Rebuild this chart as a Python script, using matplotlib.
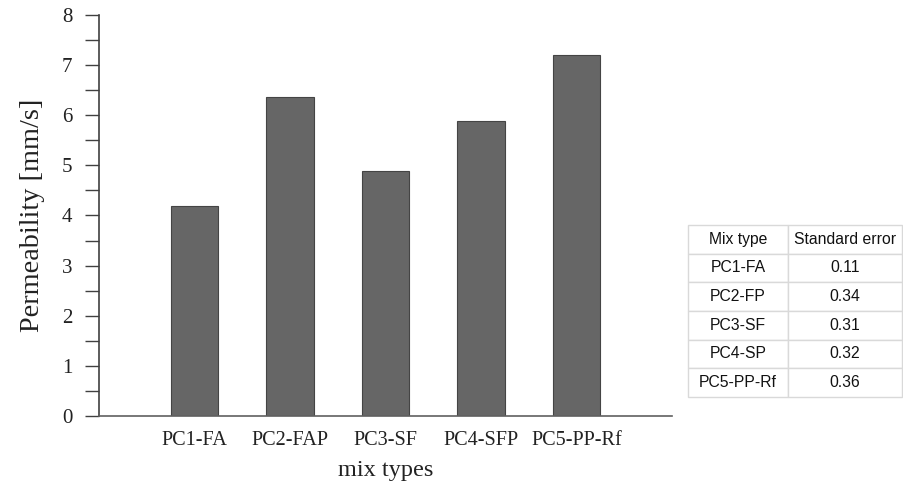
import matplotlib
matplotlib.use("Agg")
import matplotlib.pyplot as plt
from matplotlib.ticker import MultipleLocator

# Permeability of each mix
mix_types = ["PC1-FA", "PC2-FAP", "PC3-SF", "PC4-SFP", "PC5-PP-Rf"]
permeability = [4.18, 6.36, 4.89, 5.88, 7.21]

# Standard error table
table_mix = ["PC1-FA", "PC2-FP", "PC3-SF", "PC4-SP", "PC5-PP-Rf"]
std_error = ["0.11", "0.34", "0.31", "0.32", "0.36"]
table_header = ["Mix type", "Standard error"]

W, H = 904, 486
fig = plt.figure(figsize=(W / 100, H / 100), dpi=100)
ax = fig.add_axes([99 / W, 1 - 416 / H, (672 - 99) / W, (416 - 15) / H])

serif = "Liberation Serif"
x = list(range(len(mix_types)))
ax.bar(x, permeability, width=0.5, color="#666666", edgecolor="#444444",
       linewidth=0.8, zorder=2)

ax.set_xlim(-1, len(mix_types))
ax.set_ylim(0, 8)
ax.yaxis.set_major_locator(MultipleLocator(1))
ax.yaxis.set_minor_locator(MultipleLocator(0.5))
ax.set_xticks(x)
ax.set_xticklabels(mix_types, fontfamily=serif, fontsize=14.6)
for lbl in ax.get_yticklabels():
    lbl.set_fontfamily(serif)
    lbl.set_fontsize(15)

ax.tick_params(axis="y", which="both", direction="out", length=10,
               width=1.0, color="#404040", pad=9, labelcolor="#222222")
ax.tick_params(axis="x", length=0, pad=11, labelcolor="#222222")

for side in ("top", "right"):
    ax.spines[side].set_visible(False)
ax.spines["left"].set_color("#404040")
ax.spines["left"].set_linewidth(1.2)
ax.spines["bottom"].set_color("#606060")
ax.spines["bottom"].set_linewidth(1.2)

ax.set_ylabel("Permeability [mm/s]", fontfamily=serif, fontsize=20.3,
              color="#222222", labelpad=12)
ax.set_xlabel("mix types", fontfamily=serif, fontsize=17.5, color="#222222",
              labelpad=7)

# Standard error table to the right of the chart
tax = fig.add_axes([688 / W, 1 - 397 / H, (902 - 688) / W, (397 - 225) / H])
tax.axis("off")
cells = [[m, s] for m, s in zip(table_mix, std_error)]
tbl = tax.table(cellText=cells, colLabels=table_header, cellLoc="center",
                colWidths=[0.467, 0.533], bbox=[0, 0, 1, 1])
tbl.auto_set_font_size(False)
for (r, c), cell in tbl.get_celld().items():
    cell.set_edgecolor("#d9d9d9")
    cell.set_linewidth(1.0)
    cell.set_facecolor("white")
    cell.get_text().set_fontfamily("Liberation Sans")
    cell.get_text().set_fontsize(11.3)
    cell.get_text().set_color("#111111")

fig.savefig("out.png", dpi=100)
